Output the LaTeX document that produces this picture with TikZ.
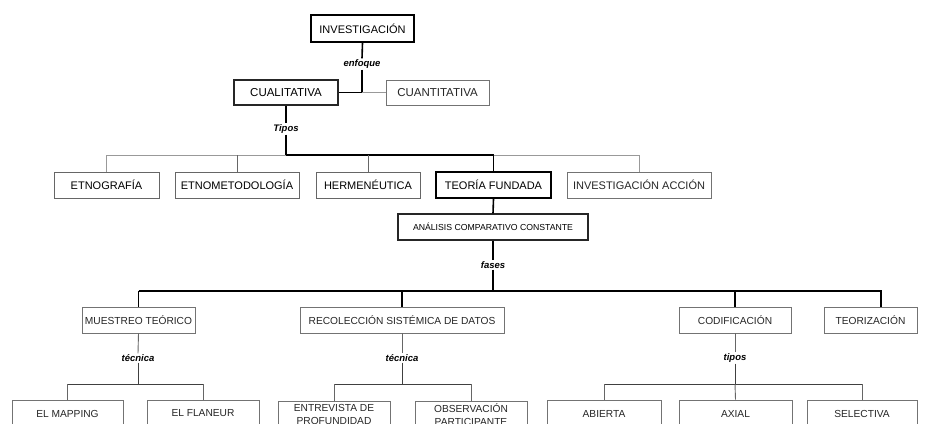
\documentclass[tikz,border=0pt]{standalone}
\usepackage{fontspec}
\setmainfont{Liberation Sans}
\begin{document}
\begin{tikzpicture}[x=1pt,y=-1pt,
  box/.style={draw, inner sep=0pt, align=center, font=\fontsize{11}{13}\selectfont},
  bthick/.style={box, line width=1.6pt, draw=black},
  bmed/.style={box, line width=1.1pt, draw=black!85},
  bgray/.style={box, line width=0.9pt, draw=black!60},
  bthin/.style={box, line width=0.7pt, draw=black!55, text=black!85},
  small/.style={font=\fontsize{10.2}{12.5}\selectfont},
  lbl/.style={inner sep=1pt, font=\fontsize{9.5}{10}\selectfont\bfseries\itshape},
  lthick/.style={line width=1.6pt, black},
  lgray/.style={line width=1pt, black!40},
  ldark/.style={line width=0.9pt, black!60},
  lthin/.style={line width=0.7pt, black!75}]
\useasboundingbox (0,0) rectangle (925,423);
\clip (0,0) rectangle (925,423);
\fill[white] (0,0) rectangle (925,423);

% level 1
\node[bthick, minimum width=103, minimum height=27] (inv) at (362.5,28.5) {INVESTIGACIÓN};
\node[lbl] (enf) at (362,64) {enfoque};
\node[bmed, minimum width=104, minimum height=25, font=\fontsize{11.5}{13}\selectfont] (cual) at (286,92.5) {CUALITATIVA};
\node[bthin, minimum width=103, minimum height=25, font=\fontsize{11.5}{13}\selectfont] (cuan) at (437.5,92.5) {CUANTITATIVA};
\coordinate (j1) at (362,92.5);
\draw[lthick] (inv.south) -- (enf.north);
\draw[lthick] (enf.south) -- (j1) -- (cual.east);
\draw[lgray] (j1) -- (cuan.west);

% level 2
\node[lbl] (tip) at (286,129) {Tipos};
\draw[lthick] (cual.south) -- (tip.north);
\node[bgray, minimum width=105, minimum height=26] (etn) at (106.5,185) {ETNOGRAFÍA};
\node[bgray, minimum width=124, minimum height=26] (etm) at (237,185) {ETNOMETODOLOGÍA};
\node[bgray, minimum width=104, minimum height=26] (her) at (368,185) {HERMENÉUTICA};
\node[bthick, minimum width=115, minimum height=26] (tf) at (493.5,185) {TEORÍA FUNDADA};
\node[bthin, minimum width=144, minimum height=26] (ia) at (639,185) {INVESTIGACIÓN ACCIÓN};
\coordinate (j2) at (286,155);
\draw[lthick] (tip.south) -- (j2) -- (j2 -| tf.north) -- (tf.north);
\draw[lgray] (j2) -- (j2 -| etn.north) -- (etn.north);
\draw[lgray] (j2 -| tf.north) -- (j2 -| ia.north) -- (ia.north);
\draw[ldark] (j2 -| etm.north) -- (etm.north);
\draw[ldark] (j2 -| her.north) -- (her.north);

% analisis
\node[bmed, minimum width=190, minimum height=26, font=\fontsize{8.7}{10}\selectfont] (acc) at (493,227) {ANÁLISIS COMPARATIVO CONSTANTE};
\draw[lthick] (tf.south) -- (acc.north);
\node[lbl] (fas) at (493,265) {fases};
\draw[lthick] (acc.south) -- (fas.north);

% level 3
\node[bthin, small, minimum width=113, minimum height=26] (mt) at (138.5,320) {MUESTREO TEÓRICO};
\node[bthin, small, minimum width=204, minimum height=26] (rsd) at (402,320) {RECOLECCIÓN SISTÉMICA DE DATOS};
\node[bthin, small, minimum width=112, minimum height=26] (cod) at (735,320) {CODIFICACIÓN};
\node[bthin, small, minimum width=93, minimum height=26] (teo) at (870.5,320) {TEORIZACIÓN};
\coordinate (j3) at (493,291);
\coordinate (teoin) at ([xshift=10.5pt]teo.north);
\draw[lthick] (fas.south) -- (j3);
\draw[lthick] (j3 -| mt.north) -- (j3 -| teoin) -- (teoin);
\draw[lthick] (j3 -| mt.north) -- (mt.north);
\draw[lthick] (j3 -| rsd.north) -- (rsd.north);
\draw[lthick] (j3 -| cod.north) -- (cod.north);

% labels level 3
\node[lbl] (tec1) at (138,358) {técnica};
\node[lbl] (tec2) at (402,358) {técnica};
\node[lbl] (tip2) at (735,358) {tipos};
\draw[ldark] (mt.south) -- (tec1.north);
\draw[ldark] (rsd.south) -- (tec2.north);
\draw[ldark] (cod.south) -- (tip2.north);

% level 4
\node[bthin, small, minimum width=111, minimum height=27] (map) at (67.5,413.5) {EL MAPPING};
\node[bthin, small, minimum width=112, minimum height=27] (fla) at (203,413.5) {EL FLANEUR};
\node[bthin, small, minimum width=112, minimum height=27] (ent) at (334,414.5) {ENTREVISTA DE\\PROFUNDIDAD};
\node[bthin, small, minimum width=112, minimum height=27] (obs) at (471,414.5) {OBSERVACIÓN\\PARTICIPANTE};
\node[bthin, small, minimum width=114, minimum height=27] (abi) at (604,413.5) {ABIERTA};
\node[bthin, small, minimum width=113, minimum height=27] (axi) at (735.5,413.5) {AXIAL};
\node[bthin, small, minimum width=110, minimum height=27] (sel) at (862,413.5) {SELECTIVA};

\coordinate (j4a) at (138,384);
\coordinate (j4b) at (402,384);
\coordinate (j4c) at (735,384);
\draw[lthin] (tec1.south) -- (j4a);
\draw[lthin] (j4a -| map.north) -- (j4a -| fla.north);
\draw[ldark] (j4a -| map.north) -- (map.north);
\draw[ldark] (j4a -| fla.north) -- (fla.north);
\draw[lthin] (tec2.south) -- (j4b);
\draw[lthin] (j4b -| ent.north) -- (j4b -| obs.north);
\draw[ldark] (j4b -| ent.north) -- (ent.north);
\draw[ldark] (j4b -| obs.north) -- (obs.north);
\draw[lthin] (tip2.south) -- (j4c);
\draw[lthin] (j4c -| abi.north) -- (j4c -| sel.north);
\draw[ldark] (j4c -| abi.north) -- (abi.north);
\draw[ldark] (j4c) -- (axi.north);
\draw[ldark] (j4c -| sel.north) -- (sel.north);
\end{tikzpicture}
\end{document}
